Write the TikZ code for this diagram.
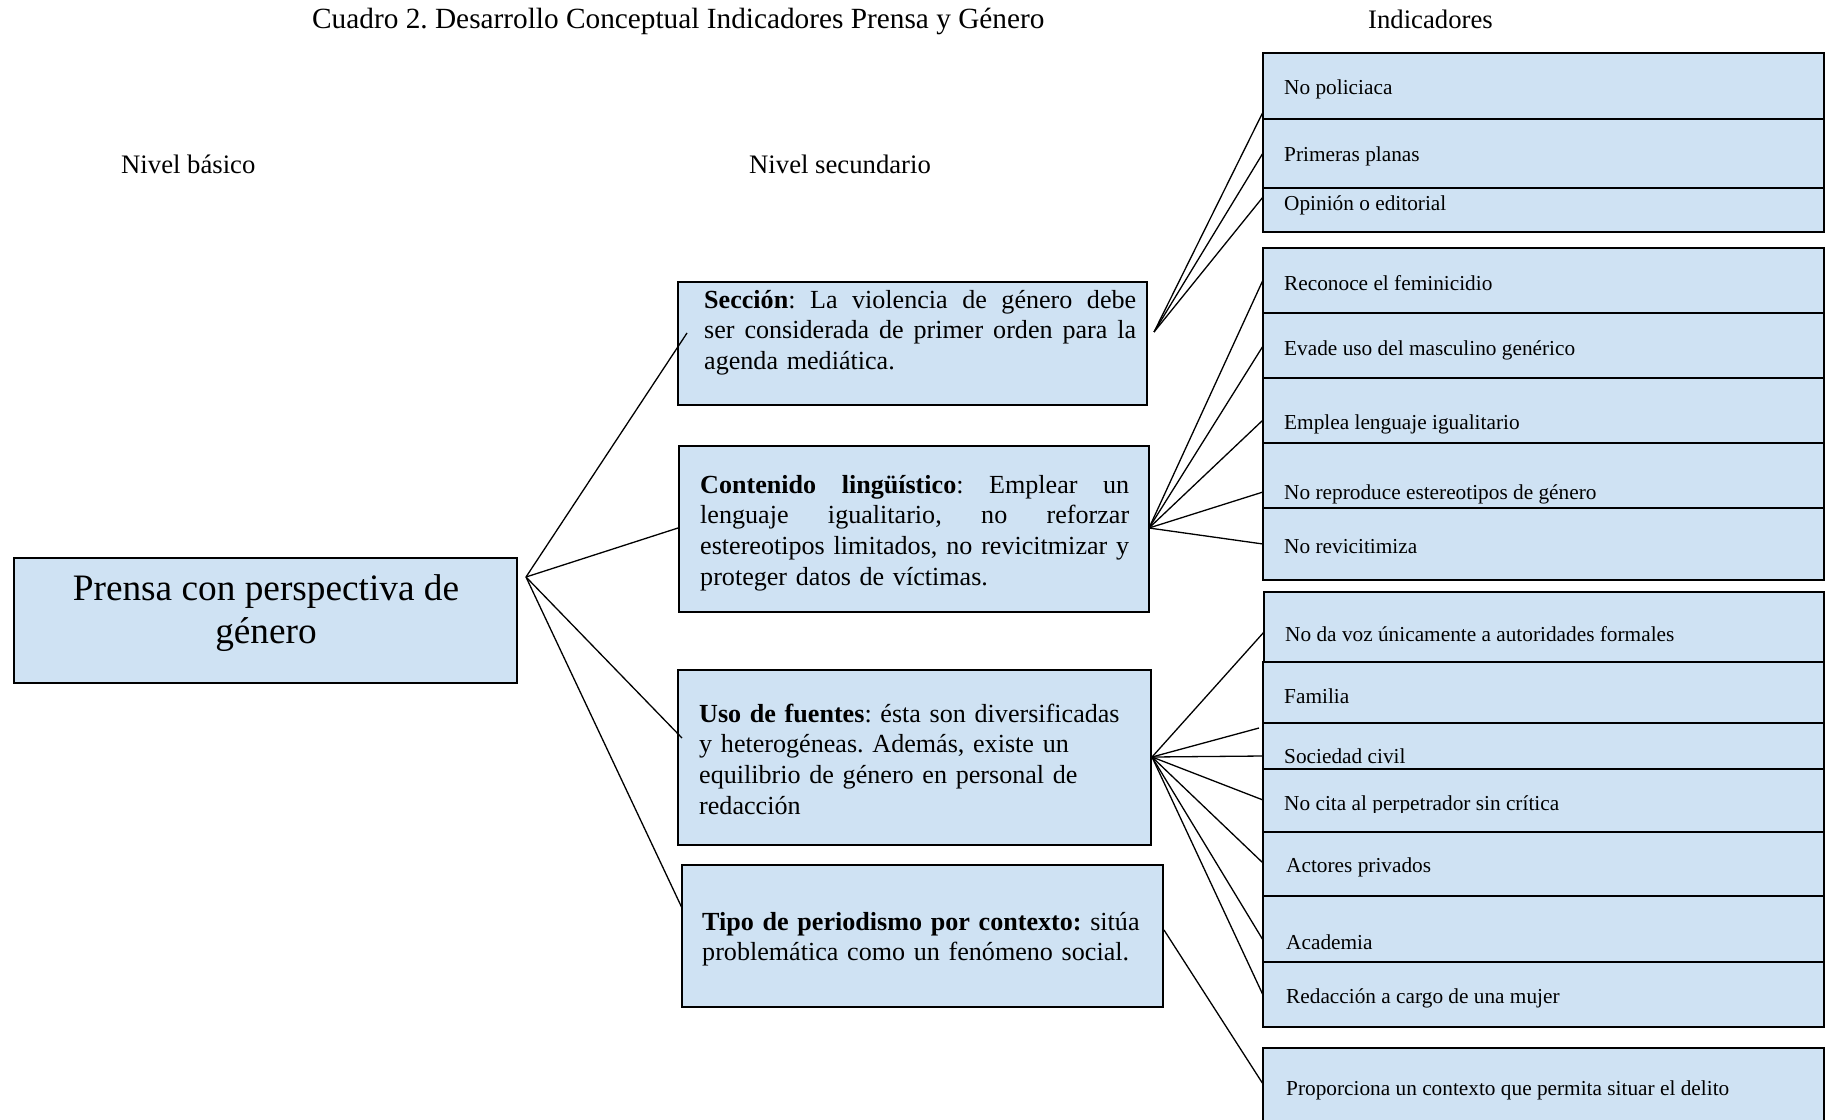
\documentclass[tikz,border=0pt]{standalone}
\usepackage{fontspec}
\setmainfont{Liberation Serif}
\frenchspacing
\definecolor{boxblue}{HTML}{CFE2F3}
\newcommand{\fsmid}{\fontsize{26.1}{30.7}\selectfont}
\newcommand{\fshdr}{\fontsize{26.7}{30.7}\selectfont}
\newcommand{\fsind}{\fontsize{21.3}{25}\selectfont}
\newcommand{\fsmain}{\fontsize{37.3}{43}\selectfont}
\newcommand{\fstitle}{\fontsize{29.3}{33}\selectfont}
\newcommand{\jline}[2]{\leavevmode\hbox to #1{\spaceskip=0.25em plus 1fil minus 0.1em\xspaceskip=\spaceskip\relax #2}}
\begin{document}
\begin{tikzpicture}[x=1pt,y=-1pt,
  box/.style={draw=black, fill=boxblue, line width=1.4pt, inner sep=0pt, outer sep=0pt, anchor=north west},
  row/.style={box, minimum width=561pt},
  ind/.style={inner sep=0pt, anchor=base west, font=\fsind},
  midtext/.style={inner sep=0pt, anchor=base west, font=\fsmid, align=left},
  hdr/.style={inner sep=0pt, anchor=base west, font=\fshdr},
  link/.style={line width=1.3pt, draw=black}]
\useasboundingbox (0,0) rectangle (1830,1119);
\clip (0,0) rectangle (1830,1119);

% headers
\node[hdr, font=\fstitle] (title) at (312,28) {Cuadro 2. Desarrollo Conceptual Indicadores Prensa y Género};
\node[hdr] (hind) at (1368,28) {Indicadores};
\node[hdr] (hbas) at (121,173.5) {Nivel básico};
\node[hdr] (hsec) at (749,173.5) {Nivel secundario};

% main box
\node[box, minimum width=503pt, minimum height=125pt] (main) at (14,558) {};
\node[inner sep=0pt, anchor=base, font=\fsmain] (mainA) at (266,600) {Prensa con perspectiva de};
\node[inner sep=0pt, anchor=base, font=\fsmain] (mainB) at (266,643) {género};

% middle boxes
\node[box, minimum width=469pt, minimum height=123pt] (sec) at (678,282) {};
\node[midtext, text width=432pt] (secT) at (704,308) {%
\jline{432pt}{\textbf{Sección}: La violencia de género debe}\\
\jline{432pt}{ser considerada de primer orden para la}\\
agenda mediática.};

\node[box, minimum width=470pt, minimum height=166pt] (con) at (679,446) {};
\node[midtext, text width=429pt] (conT) at (700,493) {%
\jline{429pt}{\textbf{Contenido lingüístico}: Emplear un}\\
\jline{429pt}{lenguaje igualitario, no reforzar}\\
\jline{429pt}{estereotipos limitados, no revicitmizar y}\\
proteger datos de víctimas.};

\node[box, minimum width=473pt, minimum height=175pt] (uso) at (678,670) {};
\node[midtext, text width=460pt] (usoT) at (699,722) {%
\textbf{Uso de fuentes}: ésta son diversificadas\\
y heterogéneas. Además, existe un\\
equilibrio de género en personal de\\
redacción};

\node[box, minimum width=481pt, minimum height=142pt] (tipo) at (682,865) {};
\node[midtext, text width=470pt] (tipoT) at (702,930) {%
\textbf{Tipo de periodismo por contexto:} sitúa\\
problemática como un fenómeno social.};

% indicator rows, group 1
\node[row, minimum height=66pt] (r1) at (1263,53) {};
\node[ind] (r1t) at (1284,94.5) {No policiaca};
\node[row, minimum height=69pt] (r2) at (1263,119) {};
\node[ind] (r2t) at (1284,161.5) {Primeras planas};
\node[row, minimum height=44pt] (r3) at (1263,188) {};
\node[ind] (r3t) at (1284,210.5) {Opinión o editorial};

% group 2
\node[row, minimum height=65pt] (r4) at (1263,248) {};
\node[ind] (r4t) at (1284,290.5) {Reconoce el feminicidio};
\node[row, minimum height=65pt] (r5) at (1263,313) {};
\node[ind] (r5t) at (1284,355.5) {Evade uso del masculino genérico};
\node[row, minimum height=65pt] (r6) at (1263,378) {};
\node[ind] (r6t) at (1284,429.5) {Emplea lenguaje igualitario};
\node[row, minimum height=65pt] (r7) at (1263,443) {};
\node[ind] (r7t) at (1284,499.5) {No reproduce estereotipos de género};
\node[row, minimum height=72pt] (r8) at (1263,508) {};
\node[ind] (r8t) at (1284,553.5) {No revicitimiza};

% group 3
\node[row, minimum width=560pt, minimum height=70pt] (r9) at (1264,592) {};
\node[ind] (r9t) at (1285,641.5) {No da voz únicamente a autoridades formales};
\node[row, minimum height=61pt] (r10) at (1263,662) {};
\node[ind] (r10t) at (1284,703.5) {Familia};
\node[row, minimum height=46pt] (r11) at (1263,723) {};
\node[ind] (r11t) at (1284,763.5) {Sociedad civil};
\node[row, minimum height=63pt] (r12) at (1263,769) {};
\begin{scope}
\clip (1263,769) rectangle (1824,812);
\node[ind] (r12t) at (1284,810.5) {No cita al perpetrador sin crítica};
\end{scope}
\node[row, minimum height=64pt] (r13) at (1263,832) {};
\node[ind] (r13t) at (1286,872.5) {Actores privados};
\node[row, minimum height=66pt] (r14) at (1263,896) {};
\node[ind] (r14t) at (1286,949.5) {Academia};
\node[row, minimum height=65pt] (r15) at (1263,962) {};
\node[ind] (r15t) at (1286,1003.5) {Redacción a cargo de una mujer};

% group 4
\node[row, minimum height=100pt] (r16) at (1263,1048) {};
\node[ind] (r16t) at (1286,1095.5) {Proporciona un contexto que permita situar el delito};

% hubs and connector ends
\coordinate (hubM) at (526,577);
\coordinate (hubS) at (1154,332);
\coordinate (hubC) at (1149,528);
\coordinate (hubU) at (1152,757);
\coordinate (hubT) at (1164,930);

\coordinate (eSec) at (687,333);
\coordinate (eCon) at (678,528);
\coordinate (eUso) at (682,738);
\coordinate (eTipo) at (682,908);

\coordinate (e1) at (1263,112);
\coordinate (e2) at (1263,153);
\coordinate (e3) at (1263,197);
\coordinate (e4) at (1263,280);
\coordinate (e5) at (1263,346);
\coordinate (e6) at (1263,420);
\coordinate (e7) at (1263,492);
\coordinate (e8) at (1263,544);
\coordinate (e9) at (1264,632);
\coordinate (e10) at (1259,728);
\coordinate (e11) at (1263,756);
\coordinate (e12) at (1263,800);
\coordinate (e13) at (1263,863);
\coordinate (e14) at (1263,940);
\coordinate (e15) at (1263,995);
\coordinate (e16) at (1263,1084);

\foreach \e in {eSec,eCon,eUso,eTipo} \draw[link] (hubM) -- (\e);
\foreach \e in {e1,e2,e3} \draw[link] (hubS) -- (\e);
\foreach \e in {e4,e5,e6,e7,e8} \draw[link] (hubC) -- (\e);
\foreach \e in {e9,e10,e11,e12,e13,e14,e15} \draw[link] (hubU) -- (\e);
\draw[link] (hubT) -- (e16);
\end{tikzpicture}
\end{document}
